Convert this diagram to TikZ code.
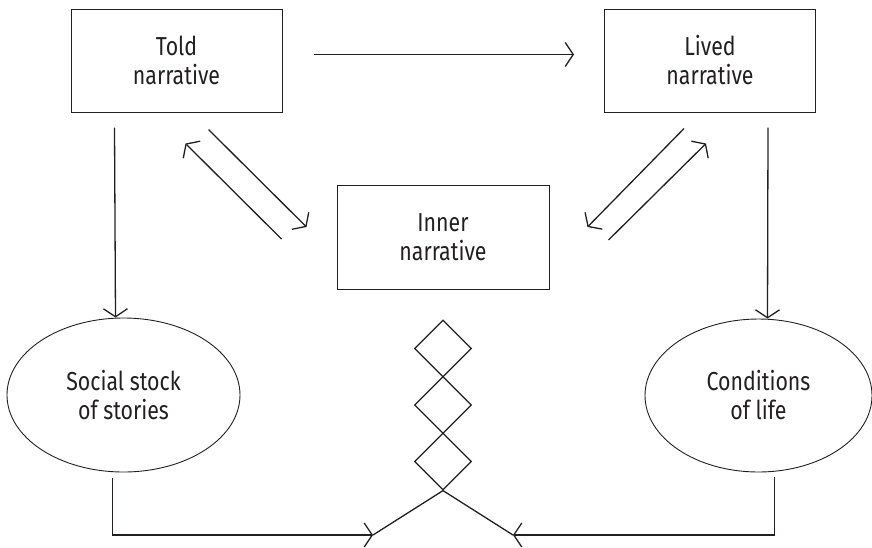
\documentclass[tikz,border=0pt]{standalone}
\usepackage{fontspec}
\setmainfont{Fira Sans}[FakeStretch=0.82]
\usepackage{tikz}
\usetikzlibrary{shapes.geometric, arrows.meta, positioning, calc}
\usepackage{xcolor}
\definecolor{inkline}{RGB}{35,31,32}

\tikzset{
  box/.style={draw=inkline, line width=0.5pt, minimum width=105.5pt, minimum height=51.5pt,
    inner sep=0pt, align=center, text=inkline, font=\fontsize{13}{14.5}\selectfont},
  oval/.style={ellipse, draw=inkline, line width=0.45pt, inner sep=0pt, align=center,
    text=inkline, font=\fontsize{13}{14.5}\selectfont},
  knot/.style={diamond, draw=inkline, line width=0.6pt, minimum size=28.5pt, inner sep=0pt},
  arr/.style={draw=inkline, line width=0.65pt, -{Straight Barb[length=4pt,width=12pt]}},
}

\begin{document}
\begin{tikzpicture}[x=0.5pt, y=-0.5pt]
        \useasboundingbox (0,0) rectangle (872,547);
        % Narratives
        \node[box] (told) at (176.5,60.5) {Told\\narrative};
        \node[box] (lived) at (710,60.5) {Lived\\narrative};
        \node[box, minimum width=106pt, minimum height=52pt] (inner) at (443,237) {Inner\\narrative};
        % Ovals
        \node[oval, minimum width=116.5pt, minimum height=77pt] (social) at (123.5,395) {Social stock\\of stories};
        \node[oval, minimum width=113.5pt, minimum height=76.5pt] (cond) at (758.5,395.5) {Conditions\\of life};
        % Diamond chain
        \foreach \i/\y in {1/348.5,2/405,3/461.5}
          \node[knot] (d\i) at (443,\y) {};
        \coordinate (mergeL) at (373,535);
        \coordinate (mergeR) at (513,535);
        % Top arrow
        \draw[arr] ($(told.east)+(31,-6)$) -- ($(lived.west)+(-30,-6)$);
        % Down arrows
        \draw[arr] ($(told.south west)+(44,15)$) -- ($(social.north)+(-8,0)$);
        \draw[arr] ($(lived.south east)+(-48,15)$) -- ($(cond.north)+(9,0)$);
        % Told <-> Inner
        \draw[arr] ($(inner.west)+(-55,2)$) -- ($(told.south east)+(-97,31)$);
        \draw[arr] ($(told.south east)+(-74,17)$) -- ($(inner.west)+(-30,-10)$);
        % Lived <-> Inner
        \draw[arr] ($(lived.south west)+(80,16)$) -- ($(inner.east)+(38,-10)$);
        \draw[arr] ($(inner.east)+(59,3)$) -- ($(lived.south west)+(102,31)$);
        % Bottom merge
        \draw[arr] ($(social.south)+(-11,6)$) |- (mergeL);
        \draw[arr] ($(cond.south)+(16,5)$) |- (mergeR);
        \draw[draw=inkline, line width=0.65pt] (mergeL) -- (d3.south) -- (mergeR);
      \end{tikzpicture}
\end{document}
